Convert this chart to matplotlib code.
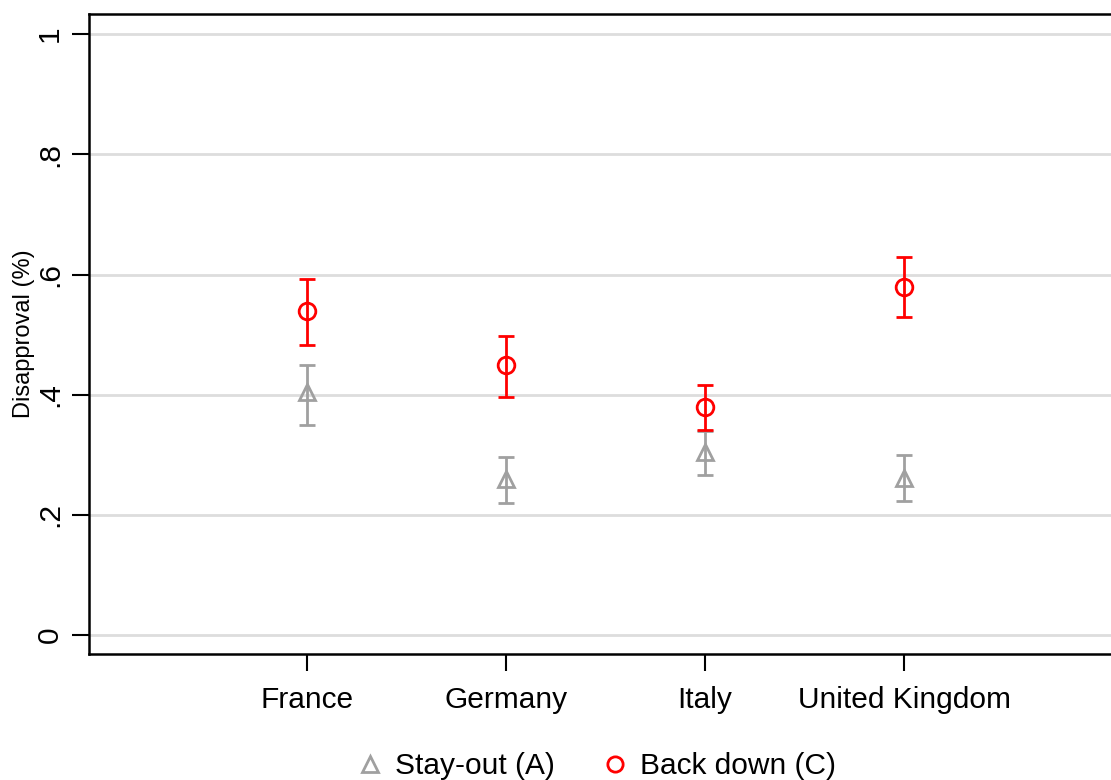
import matplotlib
matplotlib.use("Agg")
import matplotlib.pyplot as plt
from matplotlib.lines import Line2D
import numpy as np

plt.rcParams['font.family'] = ['Liberation Sans', 'DejaVu Sans']

countries = ["France", "Germany", "Italy", "United Kingdom"]
# Stay-out (A)
stay_mean = [0.404, 0.259, 0.304, 0.262]
stay_lo = [0.350, 0.219, 0.267, 0.223]
stay_hi = [0.450, 0.297, 0.339, 0.299]
# Back down (C)
back_mean = [0.540, 0.449, 0.379, 0.580]
back_lo = [0.483, 0.397, 0.341, 0.530]
back_hi = [0.593, 0.497, 0.417, 0.630]

grey = "#a0a0a0"
red = "#ff0000"

fig = plt.figure(figsize=(11.11, 7.8), dpi=100)
ax = fig.add_axes([0.0801, 0.1615, 0.9199, 0.8205])

x = np.arange(1, len(countries) + 1)

def draw(mean, lo, hi, col, mk):
    mean = np.array(mean)
    err = [mean - np.array(lo), np.array(hi) - mean]
    ax.errorbar(x, mean, yerr=err, fmt=mk, color=col, ecolor=col,
                markerfacecolor='none', markeredgecolor=col,
                markersize=12, markeredgewidth=2, elinewidth=2,
                capsize=6, capthick=2, zorder=3)

draw(stay_mean, stay_lo, stay_hi, grey, '^')
draw(back_mean, back_lo, back_hi, red, 'o')

ax.set_xlim(-0.095, 5.04)
ax.set_ylim(-0.0315, 1.0335)
ax.set_xticks(x)
ax.set_xticklabels(countries, fontsize=21.5)
ax.set_yticks([0, 0.2, 0.4, 0.6, 0.8, 1.0])
ax.set_yticklabels(["0", ".2", ".4", ".6", ".8", "1"], fontsize=21.5,
                   rotation=90, va='center')
ax.set_ylabel("Disapproval (%)", fontsize=17, labelpad=0.5)

ax.grid(axis='y', color='#dddddd', linewidth=2)
ax.set_axisbelow(True)
ax.tick_params(axis='both', length=12, width=1.5)
ax.tick_params(axis='x', pad=11)
ax.tick_params(axis='y', pad=6)
for s in ['left', 'bottom', 'top']:
    ax.spines[s].set_linewidth(1.8)
ax.spines['right'].set_visible(False)

handles = [
    Line2D([], [], linestyle='none', marker='^', markersize=11,
           markerfacecolor='none', markeredgecolor=grey, markeredgewidth=2),
    Line2D([], [], linestyle='none', marker='o', markersize=11,
           markerfacecolor='none', markeredgecolor=red, markeredgewidth=2),
]
fig.legend(handles, ["Stay-out (A)", "Back down (C)"], loc='center',
           bbox_to_anchor=(0.536, 0.018), ncol=2, frameon=False, fontsize=21.5,
           handlelength=1.0, handletextpad=0.35, columnspacing=1.5)

fig.savefig("out.png", dpi=100)
